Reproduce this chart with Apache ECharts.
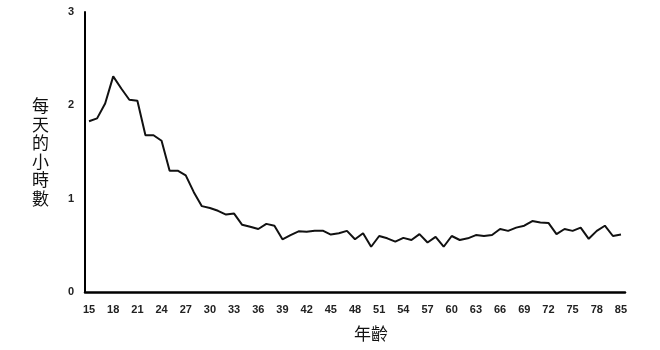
<!DOCTYPE html>
<html>
<head>
<meta charset="utf-8">
<script src="https://cdn.jsdelivr.net/npm/echarts@6/dist/echarts.min.js"></script>
<style>
html,body{margin:0;padding:0;background:#fff;}
#chart{width:660px;height:350px;}
</style>
</head>
<body>
<div id="chart"></div>
<script>
var ages = [];
for (var a = 15; a <= 80; a++) ages.push(String(a));
ages.push('85');

var hours = [
  1.83, 1.86, 2.02, 2.31, 2.18, 2.06, 2.05, 1.68, 1.68, 1.62,
  1.30, 1.30, 1.25, 1.07, 0.92, 0.90, 0.87, 0.83, 0.84, 0.72,
  0.70, 0.675, 0.73, 0.71, 0.565, 0.61, 0.65, 0.645, 0.657, 0.657,
  0.615, 0.63, 0.655, 0.565, 0.63, 0.485, 0.60, 0.575, 0.54, 0.58,
  0.557, 0.62, 0.53, 0.59, 0.485, 0.60, 0.557, 0.575, 0.61, 0.60,
  0.61, 0.675, 0.655, 0.69, 0.71, 0.76, 0.745, 0.74, 0.62, 0.675,
  0.655, 0.69, 0.57, 0.655, 0.71, 0.60, 0.615
];

var yTitle = '每天的小時數';
var xTitle = '年齡';

var chart = echarts.init(document.getElementById('chart'));
var labelFont = {color: '#222', fontFamily: 'Liberation Sans, Arial, sans-serif', fontWeight: 'bold', fontSize: 11};
chart.setOption({
  animation: false,
  backgroundColor: '#fff',
  grid: {left: 85, right: 35, top: 12, bottom: 58},
  xAxis: {
    type: 'category',
    data: ages,
    boundaryGap: true,
    name: xTitle,
    nameLocation: 'middle',
    nameGap: 33,
    nameTextStyle: {fontFamily: 'Noto Sans CJK TC, sans-serif', fontSize: 17, color: '#111', padding: [0, 0, 0, 32]},
    axisLine: {lineStyle: {color: '#000', width: 2.5}},
    axisTick: {show: false},
    axisLabel: Object.assign({interval: 2, margin: 12}, labelFont),
    splitLine: {show: false}
  },
  yAxis: {
    type: 'value',
    min: 0, max: 3, interval: 1,
    name: yTitle.split('').join('\n'),
    nameLocation: 'middle',
    nameRotate: 0,
    nameGap: 36,
    nameTextStyle: {fontFamily: 'Noto Sans CJK TC, sans-serif', fontSize: 17, lineHeight: 18.5, color: '#111'},
    axisLine: {show: true, lineStyle: {color: '#000', width: 2}},
    axisTick: {show: false},
    axisLabel: Object.assign({margin: 11}, labelFont),
    splitLine: {show: false}
  },
  series: [{
    type: 'line',
    data: hours,
    symbol: 'none',
    lineStyle: {color: '#111', width: 2},
    itemStyle: {color: '#111'}
  }]
});
</script>
</body>
</html>
